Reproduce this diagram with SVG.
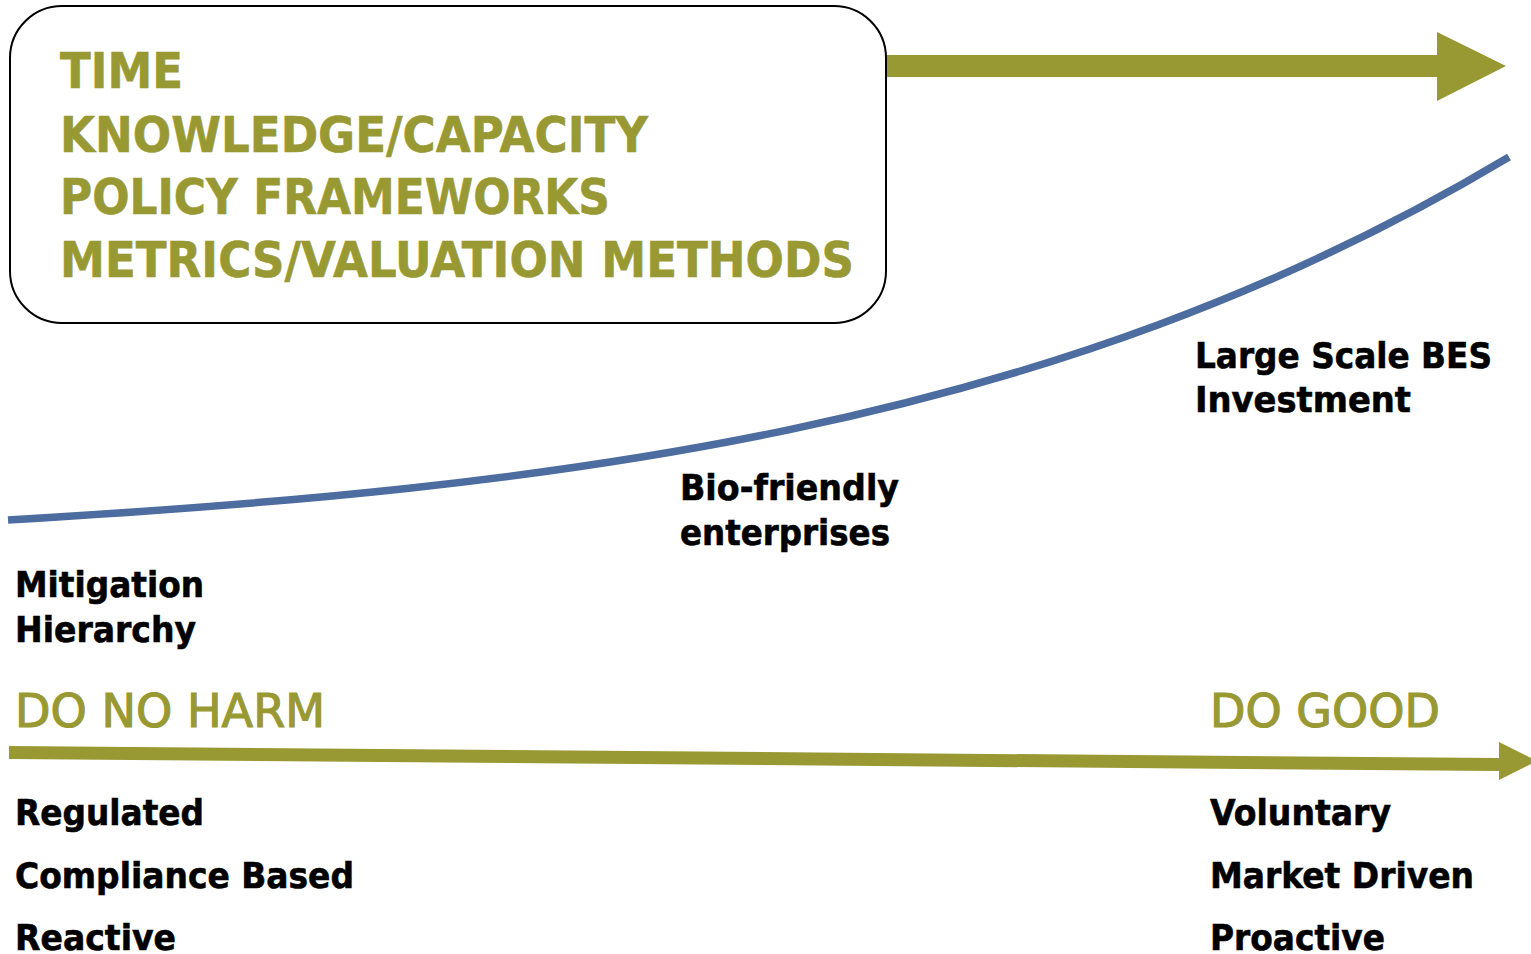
<svg xmlns="http://www.w3.org/2000/svg" width="1531" height="954" viewBox="0 0 1531 954">
<style>
.hdr{font-family:"DejaVu Sans","Liberation Sans",sans-serif;font-weight:bold;font-size:49px;fill:#999933;stroke:#999933;stroke-width:0.6px}
.pole{font-family:"DejaVu Sans","Liberation Sans",sans-serif;font-weight:normal;font-size:47px;fill:#999933;stroke:#999933;stroke-width:1.2px}
.lbl{font-family:"DejaVu Sans","Liberation Sans",sans-serif;font-weight:bold;font-size:35px;fill:#000;stroke:#000;stroke-width:0.6px}
.grn{fill:#999933}
</style>
<rect width="1531" height="954" fill="#fff"/>
<g id="connectors">
<path id="time-arrow" class="grn" d="M886,55 L1437,55 L1437,32 L1506,66 L1437,101 L1437,77 L886,77 Z"/>
<path id="curve" d="M8,520 C 550,488 1050,432 1509,157" fill="none" stroke="#4d6c9f" stroke-width="7.5"/>
<path id="axis-arrow" class="grn" d="M9,746 L1499,758 L1499,742 L1537,761 L1499,780 L1499,771 L9,759 Z"/>
</g>
<g id="drivers-box">
<rect x="10" y="6" width="876" height="317" rx="52" ry="52" fill="#fff" stroke="#000" stroke-width="2"/>
<text class="hdr" x="60" y="88" textLength="123" lengthAdjust="spacingAndGlyphs">TIME</text>
<text class="hdr" x="60" y="152" textLength="588" lengthAdjust="spacingAndGlyphs">KNOWLEDGE/CAPACITY</text>
<text class="hdr" x="60" y="214" textLength="550" lengthAdjust="spacingAndGlyphs">POLICY FRAMEWORKS</text>
<text class="hdr" x="60" y="277" textLength="794" lengthAdjust="spacingAndGlyphs">METRICS/VALUATION METHODS</text>
</g>
<g id="large-scale">
<text class="lbl" x="1195" y="368" textLength="297" lengthAdjust="spacingAndGlyphs">Large Scale BES</text>
<text class="lbl" x="1195" y="412" textLength="216" lengthAdjust="spacingAndGlyphs">Investment</text>
</g>
<g id="bio-friendly">
<text class="lbl" x="680" y="500" textLength="219" lengthAdjust="spacingAndGlyphs">Bio-friendly</text>
<text class="lbl" x="680" y="545" textLength="210" lengthAdjust="spacingAndGlyphs">enterprises</text>
</g>
<g id="mitigation">
<text class="lbl" x="15" y="597" textLength="189" lengthAdjust="spacingAndGlyphs">Mitigation</text>
<text class="lbl" x="15" y="642" textLength="181" lengthAdjust="spacingAndGlyphs">Hierarchy</text>
</g>
<g id="do-no-harm">
<text class="pole" x="15" y="727" textLength="310" lengthAdjust="spacingAndGlyphs">DO NO HARM</text>
<text class="lbl" x="15" y="825" textLength="189" lengthAdjust="spacingAndGlyphs">Regulated</text>
<text class="lbl" x="15" y="888" textLength="339" lengthAdjust="spacingAndGlyphs">Compliance Based</text>
<text class="lbl" x="15" y="950" textLength="161" lengthAdjust="spacingAndGlyphs">Reactive</text>
</g>
<g id="do-good">
<text class="pole" x="1210" y="727" textLength="230" lengthAdjust="spacingAndGlyphs">DO GOOD</text>
<text class="lbl" x="1210" y="825" textLength="181" lengthAdjust="spacingAndGlyphs">Voluntary</text>
<text class="lbl" x="1210" y="888" textLength="264" lengthAdjust="spacingAndGlyphs">Market Driven</text>
<text class="lbl" x="1210" y="950" textLength="175" lengthAdjust="spacingAndGlyphs">Proactive</text>
</g>
</svg>
